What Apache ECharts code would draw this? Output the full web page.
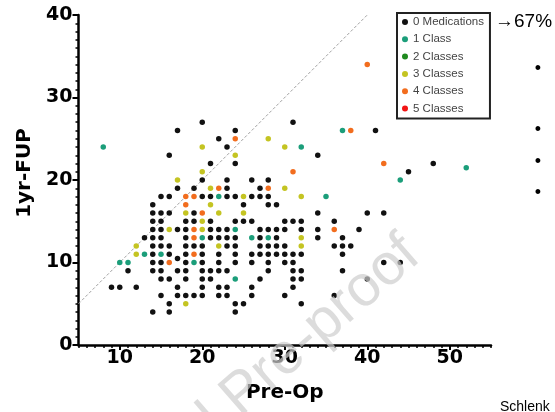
<!DOCTYPE html>
<html>
<head>
<meta charset="utf-8">
<script src="https://cdn.jsdelivr.net/npm/echarts@6/dist/echarts.min.js"></script>
<style>
html,body{margin:0;padding:0;background:#fff;}
#chart{width:555px;height:412px;}
</style>
</head>
<body>
<div id="chart"></div>
<script>
// ---- data: [Pre-Op, 1yr-FUP] ----
const seriesNames = ['0 Medications', '1 Class', '2 Classes', '3 Classes', '4 Classes', '5 Classes'];
const meds0 = [
  [20,27],[31,27],
  [17,26],[24,26],[41,26],
  [22,25],
  [23,24],
  [16,23],[34,23],
  [21,22],[24,22],[48,22],
  [45,21],
  [20,20],[23,20],[26,20],[28,20],
  [17,19],[19,19],[23,19],[27,19],
  [15,18],[16,18],[20,18],[21,18],[23,18],[24,18],[26,18],[27,18],[28,18],
  [14,17],[25,17],[28,17],[29,17],
  [14,16],[15,16],[16,16],[19,16],[34,16],[40,16],[42,16],
  [14,15],[15,15],[18,15],[19,15],[21,15],[24,15],[25,15],[26,15],[30,15],[31,15],[32,15],[36,15],
  [14,14],[15,14],[17,14],[18,14],[21,14],[22,14],[23,14],[27,14],[28,14],[29,14],[30,14],[32,14],[34,14],[39,14],
  [13,13],[14,13],[15,13],[18,13],[21,13],[22,13],[23,13],[24,13],[27,13],[29,13],[34,13],[37,13],
  [14,12],[15,12],[16,12],[18,12],[19,12],[20,12],[23,12],[24,12],[27,12],[28,12],[29,12],[30,12],[36,12],[37,12],[38,12],
  [14,11],[16,11],[18,11],[20,11],[22,11],[24,11],[26,11],[27,11],[28,11],[29,11],[30,11],[31,11],[32,11],[37,11],
  [17,10.5],
  [14,10],[15,10],[18,10],[20,10],[22,10],[24,10],[26,10],[28,10],[30,10],[31,10],[42,10],[44,10],
  [11,9],[14,9],[15,9],[17,9],[18,9],[20,9],[21,9],[22,9],[23,9],[28,9],[31,9],[32,9],[37,9],
  [15,8],[16,8],[18,8],[20,8],[21,8],[27,8],[31,8],[32,8],[40,8],
  [9,7],[10,7],[12,7],[17,7],[20,7],[22,7],[23,7],[26,7],[31,7],
  [15,6],[17,6],[18,6],[19,6],[20,6],[22,6],[23,6],[26,6],[30,6],[36,6],
  [16,5],[24,5],[25,5],[32,5],
  [14,4],[16,4],[24,4]
];
const meds1 = [
  [8,24],[37,26],[32,24],[52,21.5],[44,20],[35,18],[22,18],[24,14],
  [20,13],[26,13],[28,13],[13,11],[15,11],[10,10],[11,10],[19,10],[24,8]
];
const meds2 = [];
const meds3 = [
  [20,24],[20,21],[17,20],[24,23],[28,25],[30,24],[21,19],[30,19],[25,18],[32,18],
  [21,17],[18,16],[22,16],[25,16],[20,15],[16,14],[20,14],[12,12],[22,12],[32,12],
  [32,13],[12,11],[18,5]
];
const meds4 = [
  [40,34],[24,25],[38,26],[42,22],[31,21],[22,19],[28,19],[18,18],[19,18],[18,17],
  [20,16],[19,14],[19,13],[19,11],[16,10],[36,14]
];
const meds5 = [];
const identityLine = [[5,5],[40,40]];
const xTickValues = [10, 20, 30, 40, 50];
const yTickValues = [0, 10, 20, 30, 40];

const colors = ['#111111', '#1b9e7a', '#1f8a1f', '#c4c422', '#f26d1e', '#f21515'];
const groups = [meds0, meds1, meds2, meds3, meds4, meds5];
const FONT = '"Liberation Sans", Arial, sans-serif';
const AXFONT = '"DejaVu Sans", Verdana, sans-serif';

const chart = echarts.init(document.getElementById('chart'), null, {renderer: 'canvas'});

const scatterSeries = groups.map((g, i) => ({
  name: seriesNames[i],
  type: 'scatter',
  data: g,
  symbol: 'circle',
  symbolSize: 5.5,
  itemStyle: {color: colors[i], opacity: 1},
  z: 3
}));

const option = {
  animation: false,
  backgroundColor: '#fff',
  grid: {left: 78.5, top: 15, width: 412.5, height: 330, containLabel: false},
  xAxis: [{
    type: 'value', min: 5, max: 55, interval: 5,
    name: 'Pre-Op', nameLocation: 'middle', nameGap: 38,
    nameTextStyle: {fontFamily: AXFONT, fontSize: 20, fontWeight: 'bold', color: '#000'},
    axisLine: {show: true, lineStyle: {color: '#000', width: 2.5}},
    axisTick: {show: true, customValues: xTickValues, length: 5, lineStyle: {color: '#000', width: 2}},
    axisLabel: {customValues: xTickValues, fontFamily: AXFONT, fontSize: 19, fontWeight: 'bold', color: '#000', margin: 4},
    splitLine: {show: false}
  }, {
    type: 'value', min: 5, max: 55, interval: 1, position: 'bottom',
    axisLine: {show: false},
    axisTick: {show: true, length: 3, lineStyle: {color: '#000', width: 1.5}},
    axisLabel: {show: false},
    splitLine: {show: false}
  }],
  yAxis: {
    type: 'value', min: 0, max: 40, interval: 10,
    name: '1yr-FUP', nameLocation: 'middle', nameGap: 38, nameRotate: 90,
    nameTextStyle: {fontFamily: AXFONT, fontSize: 20, fontWeight: 'bold', color: '#000', padding: [0, 0, 0, 14]},
    axisLine: {show: true, lineStyle: {color: '#000', width: 2.5}},
    axisTick: {show: true, length: 6, lineStyle: {color: '#000', width: 2}},
    minorTick: {show: true, splitNumber: 10, length: 3, lineStyle: {color: '#000', width: 1.5}},
    axisLabel: {fontFamily: AXFONT, fontSize: 19, fontWeight: 'bold', color: '#000', margin: 6,
      formatter: v => (yTickValues.indexOf(v) >= 0 ? String(v) : '')},
    splitLine: {show: false}
  },
  legend: {
    data: seriesNames,
    orient: 'vertical',
    left: 397, top: 13,
    icon: 'circle',
    itemWidth: 6, itemHeight: 6,
    itemGap: 3.3,
    padding: [2, 6, 3, 5],
    borderColor: '#222', borderWidth: 2,
    textStyle: {fontFamily: FONT, fontSize: 11.5, color: '#444', lineHeight: 14},
    selectedMode: false
  },
  series: [{
    name: 'identity', type: 'line', data: identityLine, symbol: 'none',
    lineStyle: {color: '#a0a0a0', width: 1, type: [3, 2]}, z: 2, silent: true
  }].concat(scatterSeries),
  graphic: [
    {type: 'text', left: 495, top: 12, z: 10,
     style: {text: '\u219267%', font: '19px ' + FONT, fill: '#000'}},
    {type: 'text', x: 538, y: 69, z: 10,
     style: {text: '\u2022', font: '18px ' + FONT, fill: '#000', textAlign: 'center', textVerticalAlign: 'middle'}},
    {type: 'text', x: 538, y: 130, z: 10,
     style: {text: '\u2022', font: '18px ' + FONT, fill: '#000', textAlign: 'center', textVerticalAlign: 'middle'}},
    {type: 'text', x: 538, y: 162, z: 10,
     style: {text: '\u2022', font: '18px ' + FONT, fill: '#000', textAlign: 'center', textVerticalAlign: 'middle'}},
    {type: 'text', x: 538, y: 193, z: 10,
     style: {text: '\u2022', font: '18px ' + FONT, fill: '#000', textAlign: 'center', textVerticalAlign: 'middle'}},
    {type: 'text', left: 500, top: 400, z: 10,
     style: {text: 'Schlenk', font: '14px ' + FONT, fill: '#000'}},
    {type: 'text', x: 412, y: 247, rotation: 0.716, z: 20, silent: true,
     style: {text: 'Journal Pre-proof', font: '58px ' + FONT, fill: 'rgba(205,205,205,0.7)',
             textAlign: 'right', textVerticalAlign: 'middle'}}
  ]
};
chart.setOption(option);
</script>
</body>
</html>
